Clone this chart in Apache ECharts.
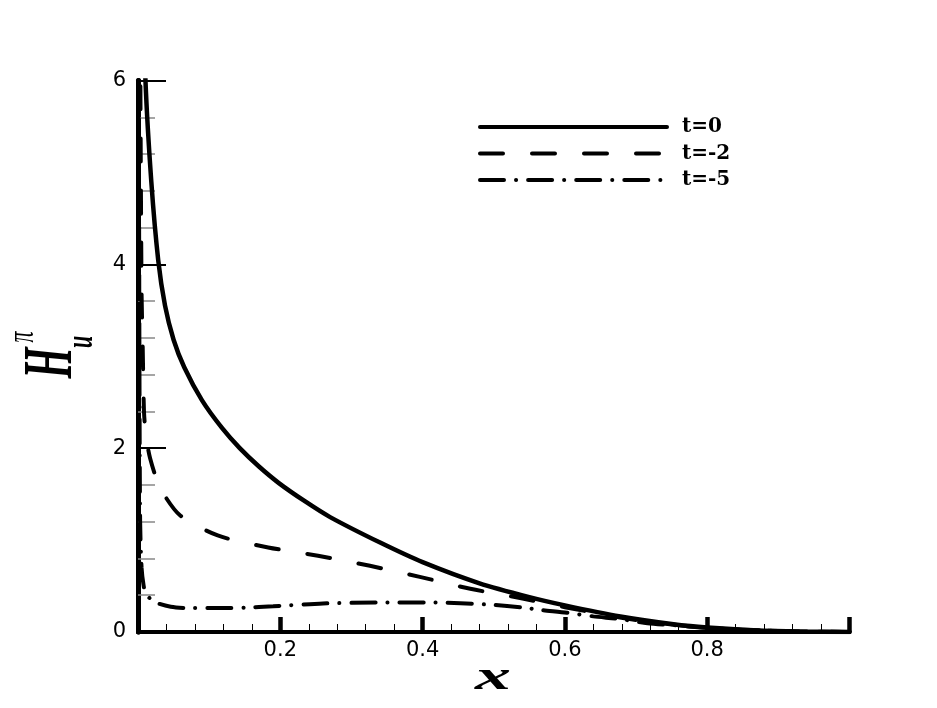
<!DOCTYPE html>
<html>
<head>
<meta charset="utf-8">
<script src="https://cdn.jsdelivr.net/npm/echarts@6/dist/echarts.min.js"></script>
<style>
  html, body { margin: 0; padding: 0; background: #fff; }
  #chart { width: 937px; height: 708px; }
</style>
</head>
<body>
<div id="chart"></div>
<script>
// series names
const seriesNames = ['t=0', 't=-2', 't=-5']

// t=0 (solid)
const t0X = [0.006, 0.0105, 0.0187, 0.0285, 0.038, 0.05, 0.065, 0.09, 0.118, 0.143, 0.17, 0.198, 0.235, 0.27, 0.341, 0.40, 0.48, 0.55, 0.60, 0.678, 0.758, 0.80, 0.865, 0.93, 1.0]
const t0Y = [7.4, 6.0, 4.9, 4.04, 3.55, 3.18, 2.88, 2.52, 2.22, 2.0, 1.80, 1.62, 1.42, 1.25, 0.97, 0.76, 0.53, 0.38, 0.29, 0.17, 0.08, 0.05, 0.02, 0.005, 0]

// t=-2 (dashed)
const t2X = [0.003, 0.005, 0.0066, 0.0084, 0.011, 0.017, 0.031, 0.059, 0.112, 0.183, 0.253, 0.326, 0.396, 0.467, 0.537, 0.60, 0.70, 0.80, 0.90, 1.0]
const t2Y = [6.5, 3.7, 3.1, 2.4, 2.15, 1.89, 1.57, 1.27, 1.05, 0.92, 0.83, 0.72, 0.60, 0.47, 0.37, 0.27, 0.13, 0.045, 0.01, 0]

// t=-5 (dash-dot)
const t5X = [0.001, 0.002, 0.003, 0.005, 0.008, 0.011, 0.022, 0.046, 0.074, 0.112, 0.15, 0.19, 0.26, 0.34, 0.416, 0.49, 0.542, 0.566, 0.603, 0.64, 0.678, 0.716, 0.76, 0.80, 0.90, 1.0]
const t5Y = [6.5, 3.0, 1.2, 0.7, 0.5, 0.42, 0.33, 0.275, 0.26, 0.26, 0.265, 0.28, 0.31, 0.32, 0.32, 0.30, 0.265, 0.24, 0.21, 0.17, 0.14, 0.095, 0.07, 0.045, 0.01, 0]

// axis ticks
const xTicks = [0.2, 0.4, 0.6, 0.8]
const yTicks = [0, 2, 4, 6]

const zip = (xs, ys) => xs.map((x, i) => [x, ys[i]])

const chart = echarts.init(document.getElementById('chart'))

const axisFont = { fontFamily: 'DejaVu Sans', fontSize: 21, color: '#000' }

const lineSeries = (name, xs, ys, lineStyle) => ({
  name,
  type: 'line',
  data: zip(xs, ys),
  smooth: 0.25,
  symbol: 'none',
  xAxisIndex: 0,
  yAxisIndex: 0,
  itemStyle: { color: '#000' },
  lineStyle: Object.assign({ color: '#000', cap: 'round' }, lineStyle)
})

const centered = { align: 'center', verticalAlign: 'middle', textAlign: 'center', textVerticalAlign: 'middle', fill: '#000' }

const option = {
  backgroundColor: '#fff',
  animation: false,
  grid: { left: 138, right: 87.5, top: 80.5, bottom: 76 },
  legend: {
    data: seriesNames,
    orient: 'vertical',
    left: 478,
    top: 117,
    padding: 0,
    itemWidth: 187,
    itemHeight: 14,
    itemGap: 6.5,
    itemStyle: { opacity: 0 },
    lineStyle: { width: 4, color: '#000', cap: 'round' },
    textStyle: {
      fontFamily: 'DejaVu Serif',
      fontWeight: 'bold',
      fontSize: 20,
      color: '#000',
      padding: [0, 0, 0, 10]
    }
  },
  xAxis: [
    {
      type: 'value',
      position: 'bottom',
      min: 0,
      max: 1,
      interval: 0.2,
      axisLine: { lineStyle: { color: '#000', width: 4 } },
      axisTick: { inside: true, length: 15, lineStyle: { color: '#000', width: 4.5 } },
      minorTick: { show: true, splitNumber: 5, length: 8, lineStyle: { color: '#000', width: 1 } },
      splitLine: { show: false },
      axisLabel: Object.assign({
        margin: 8,
        formatter: v => xTicks.some(t => Math.abs(t - v) < 1e-9) ? v.toFixed(1) : ''
      }, axisFont)
    },
    {
      type: 'value',
      position: 'top',
      min: 0,
      max: 1,
      axisLine: { lineStyle: { color: '#000', width: 3 } },
      axisTick: { show: false },
      axisLabel: { show: false },
      splitLine: { show: false }
    }
  ],
  yAxis: [
    {
      type: 'value',
      position: 'left',
      min: 0,
      max: 6,
      interval: 2,
      axisLine: { lineStyle: { color: '#000', width: 5 } },
      axisTick: { inside: true, length: 28, lineStyle: { color: '#000', width: 2 } },
      minorTick: { show: true, splitNumber: 5, length: 17, lineStyle: { color: '#888', width: 1.5 } },
      splitLine: { show: false },
      axisLabel: Object.assign({
        margin: 12,
        formatter: v => yTicks.includes(v) ? String(v) : ''
      }, axisFont)
    },
    {
      type: 'value',
      position: 'right',
      min: 0,
      max: 6,
      axisLine: { lineStyle: { color: '#000', width: 5 } },
      axisTick: { show: false },
      axisLabel: { show: false },
      splitLine: { show: false }
    }
  ],
  graphic: [
    {
      type: 'text',
      x: 493,
      y: 679,
      scaleX: 1.8,
      style: Object.assign({ text: 'x', font: 'italic bold 40px "Liberation Serif"' }, centered)
    },
    {
      type: 'group',
      x: 53,
      y: 363,
      rotation: Math.PI / 2,
      scaleY: 1.74,
      children: [
        { type: 'text', x: 0, y: 0, style: Object.assign({ text: 'H', font: 'italic bold 40px "Liberation Serif"' }, centered) },
        { type: 'text', x: 26, y: -17.5, style: Object.assign({ text: 'π', font: 'italic 22px "Liberation Serif"' }, centered) },
        { type: 'text', x: 21, y: 16.5, style: Object.assign({ text: 'u', font: 'italic bold 22px "Liberation Serif"' }, centered) }
      ]
    }
  ],
  series: [
    lineSeries(seriesNames[0], t0X, t0Y, { width: 4.5, type: 'solid' }),
    lineSeries(seriesNames[1], t2X, t2Y, { width: 4, type: [23, 29] }),
    lineSeries(seriesNames[2], t5X, t5Y, { width: 4, type: [24, 12, 0.1, 12] })
  ]
}

chart.setOption(option)
</script>
</body>
</html>
